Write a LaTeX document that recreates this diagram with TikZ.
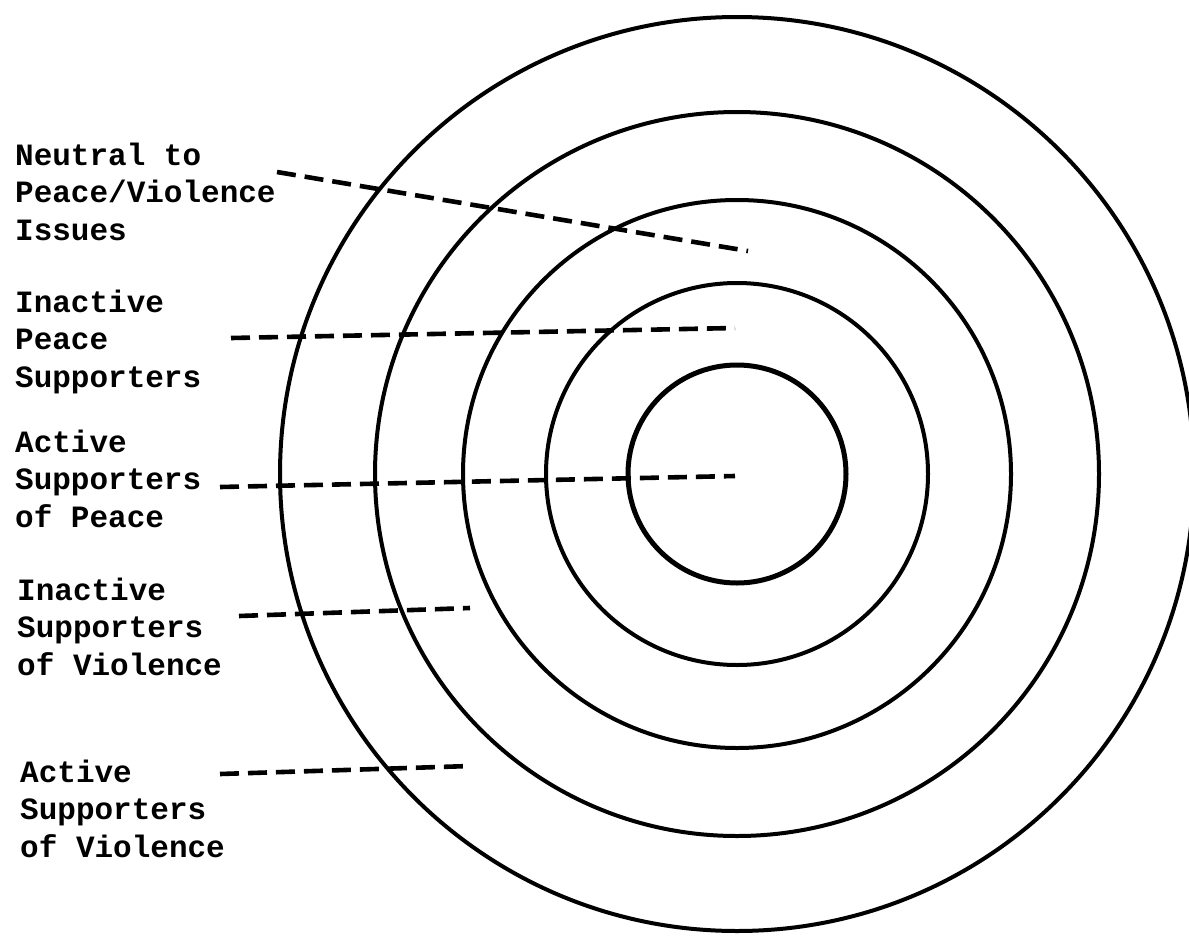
\documentclass[tikz,border=0pt]{standalone}
\usepackage{fontspec}
\setmonofont{Liberation Mono}
\usetikzlibrary{positioning}
\tikzset{ring/.style={draw=black,line width=4pt},guide/.style={draw=black,line width=4.6pt,dash pattern=on 19pt off 9pt},group/.style={align=left,anchor=base west,inner sep=0pt,font=\ttfamily\bfseries\fontsize{31}{37.5}\selectfont}}

\begin{document}
\begin{tikzpicture}[x=1pt,y=-1pt]
\useasboundingbox (0,0) rectangle (1189,937);
\coordinate (mid) at (737,474);
\draw[ring] (mid) circle[radius=457];
\draw[ring] (mid) circle[radius=362];
\draw[ring] (mid) circle[radius=274];
\draw[ring] (mid) circle[radius=191];
\draw[ring,line width=5pt] (mid) circle[radius=109];
\node[group] (neutral) at (15,240) {Neutral to\\Peace/Violence\\Issues};
\node[group] (inpeace) at (15,387) {Inactive\\Peace\\Supporters};
\node[group] (actpeace) at (15,527) {Active\\Supporters\\of Peace};
\node[group] (inviol) at (17,675) {Inactive\\Supporters\\of Violence};
\node[group] (actviol) at (20,857) {Active\\Supporters\\of Violence};
\coordinate (neutral-a) at (277,172);
\coordinate (neutral-b) at (748,251);
\coordinate (inpeace-a) at (231,338);
\coordinate (inpeace-b) at (735,328);
\coordinate (actpeace-a) at (220,487);
\coordinate (actpeace-b) at (735,476);
\coordinate (inviol-a) at (239,616);
\coordinate (inviol-b) at (470,608);
\coordinate (actviol-a) at (220,774);
\coordinate (actviol-b) at (470,766);
\draw[guide] (neutral-a)--(neutral-b);
\draw[guide] (inpeace-a)--(inpeace-b);
\draw[guide] (actpeace-a)--(actpeace-b);
\draw[guide] (inviol-a)--(inviol-b);
\draw[guide] (actviol-a)--(actviol-b);
\end{tikzpicture}
\end{document}
